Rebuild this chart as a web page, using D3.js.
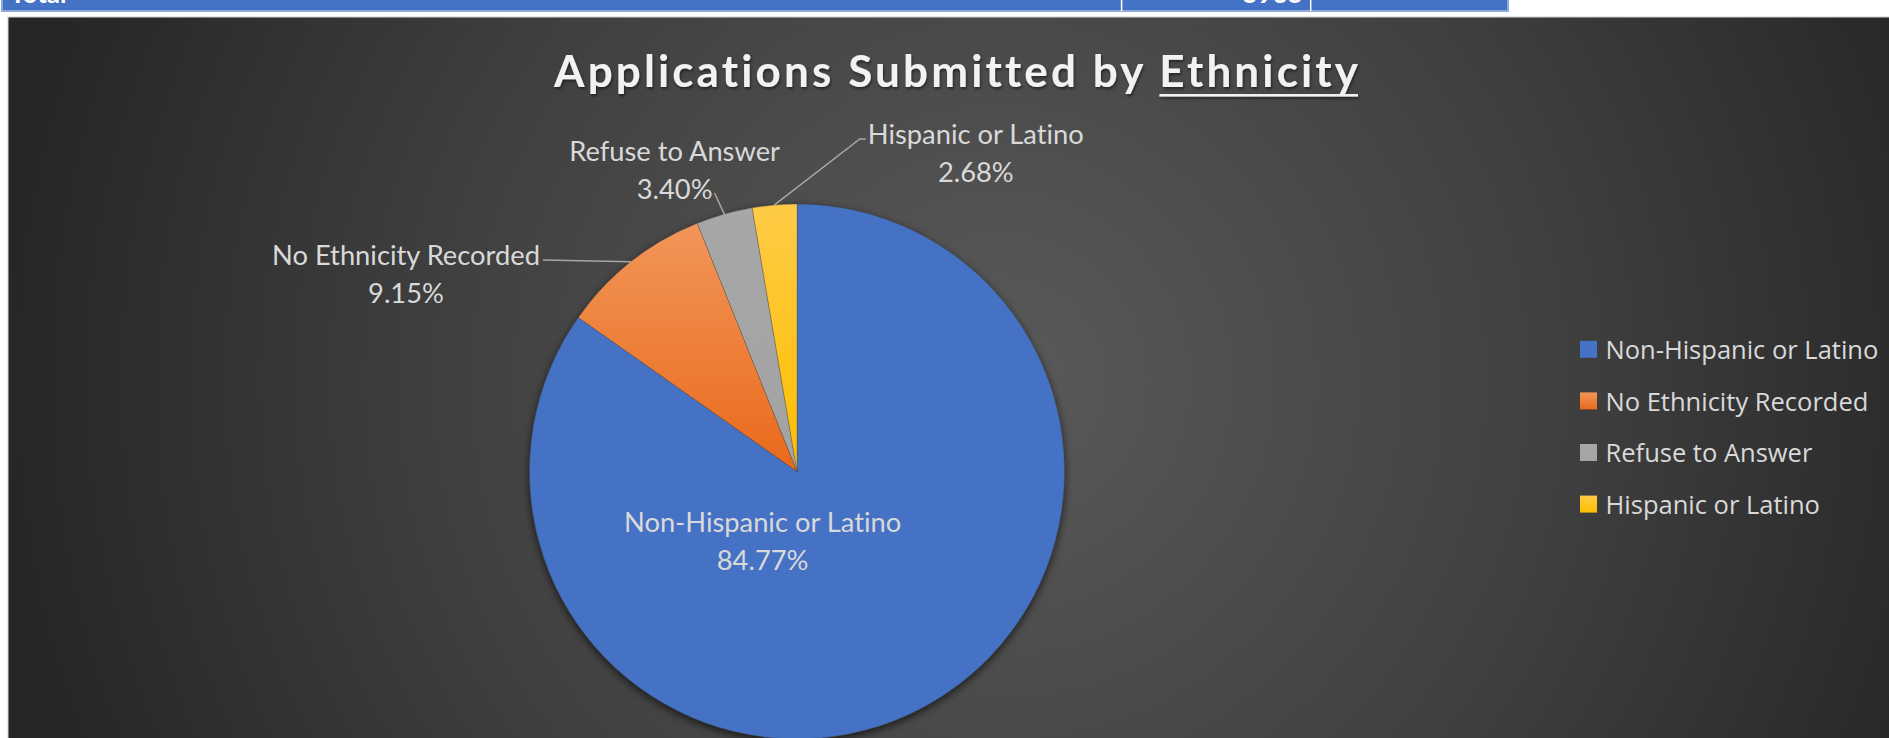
<!DOCTYPE html>
<html><head><meta charset="utf-8">
<script src="https://cdn.jsdelivr.net/npm/d3@7/dist/d3.min.js"></script>
<style>body{margin:0;background:#fff;overflow:hidden} text{font-variant-ligatures:none;font-feature-settings:"liga" 0,"clig" 0}</style>
</head><body><svg id="c" width="1889" height="738"></svg>
<script>
// ---------------- data ----------------
const categories = ["Non-Hispanic or Latino", "No Ethnicity Recorded", "Refuse to Answer", "Hispanic or Latino"];
const values = [84.77, 9.15, 3.40, 2.68];
const titleMain = "Applications Submitted by ";
const titleUnderlined = "Ethnicity";
const tableRowLabel = "Total";
const tableRowValue = "5935";

// ---------------- layout / style ----------------
const W = 1889, H = 738;
const chartBox = {x: 8, y: 17, w: W - 8, h: H - 17};
const pieC = {x: 797, y: 471.5}, R = 267.5;
const gradTop = ["#4472c4", "#f29659", "#a7a7a7", "#ffcb47"];
const gradBottom = ["#4472c4", "#e9691b", "#a3a3a3", "#fdbf00"];
const labelFont = "Lato, 'Open Sans', sans-serif";
const labelSize = 27.3, lineGap = 38;
// label centre offsets from pie centre + leader settings
const labelLayout = [
  {dx: -34.4, dy: 69.5, leader: null},
  {dx: -391, dy: -197.5, leader: {line: 0, edge: "right", off: 3, ly: 5, elbow: 0}},
  {dx: -122.4, dy: -301.5, leader: {line: 1, edge: "right", off: 2, ly: 4, elbow: 0}},
  {dx: 178.8, dy: -318.5, leader: {line: 0, edge: "left", off: 2, ly: 5, elbow: 6}}
];
const legendLayout = {x: 1580, y0: 349.3, step: 51.6, sq: 17, tx: 1605.5, size: 25.5};

const svg = d3.select("#c");
const defs = svg.append("defs");

// background gradient
const bg = defs.append("radialGradient").attr("id", "bg")
  .attr("gradientUnits", "userSpaceOnUse").attr("cx", 1000).attr("cy", 380).attr("r", 1000);
bg.append("stop").attr("offset", 0).attr("stop-color", "#5a5a5a");
bg.append("stop").attr("offset", 0.55).attr("stop-color", "#404040");
bg.append("stop").attr("offset", 1).attr("stop-color", "#262626");

categories.forEach((c, i) => {
  const g = defs.append("linearGradient").attr("id", "g" + i).attr("x1", 0).attr("y1", 0).attr("x2", 0).attr("y2", 1);
  g.append("stop").attr("offset", 0).attr("stop-color", gradTop[i]);
  g.append("stop").attr("offset", 1).attr("stop-color", gradBottom[i]);
});

const sh = defs.append("filter").attr("id", "sh").attr("x", "-10%").attr("y", "-10%").attr("width", "120%").attr("height", "120%");
sh.append("feDropShadow").attr("dx", 0).attr("dy", 3).attr("stdDeviation", 4).attr("flood-color", "#000").attr("flood-opacity", 0.65);
const tsh = defs.append("filter").attr("id", "tsh").attr("filterUnits", "userSpaceOnUse")
  .attr("x", 0).attr("y", 20).attr("width", W).attr("height", 100);
tsh.append("feDropShadow").attr("dx", 1).attr("dy", 2).attr("stdDeviation", 1.5).attr("flood-color", "#000").attr("flood-opacity", 0.5);

// ---------- table strip at the top ----------
const tbl = svg.append("g");
tbl.append("rect").attr("x", 2).attr("y", -4).attr("width", 1506).attr("height", 15)
  .attr("fill", "#4472c4").attr("stroke", "#8eaadb").attr("stroke-width", 2);
[1121.6, 1310.7].forEach(x => tbl.append("line").attr("x1", x).attr("x2", x).attr("y1", 0).attr("y2", 11)
  .attr("stroke", "#fff").attr("stroke-width", 1.5));
tbl.append("text").attr("x", 10).attr("y", 3).attr("fill", "#fff").attr("font-weight", 700)
  .attr("font-family", labelFont).attr("font-size", 26).text(tableRowLabel);
tbl.append("text").attr("x", 1303).attr("y", 3).attr("text-anchor", "end").attr("fill", "#fff").attr("font-weight", 700)
  .attr("font-family", labelFont).attr("font-size", 26).text(tableRowValue);

// ---------- chart area ----------
svg.append("rect").attr("x", chartBox.x).attr("y", chartBox.y).attr("width", chartBox.w + 2).attr("height", chartBox.h + 2)
  .attr("fill", "url(#bg)").attr("stroke", "#d0d0d0").attr("stroke-width", 1);

// title
const titleG = svg.append("g").attr("filter", "url(#tsh)");
const title = titleG.append("text").attr("x", 956).attr("y", 87).attr("text-anchor", "middle")
  .attr("font-family", labelFont).attr("font-weight", 700).attr("font-size", 44)
  .attr("fill", "#f2f2f2")
  .attr("textLength", 804).attr("lengthAdjust", "spacing");
title.append("tspan").text(titleMain);
title.append("tspan").text(titleUnderlined);
{
  const node = title.node();
  const n = (titleMain + titleUnderlined).length;
  const s = node.getStartPositionOfChar(titleMain.length).x;
  const e = node.getEndPositionOfChar(n - 1).x;
  titleG.append("rect").attr("x", s).attr("width", e - s).attr("y", 94).attr("height", 2.6)
    .attr("fill", "#f2f2f2");
}

// pie
const pie = d3.pie().sort(null).value(d => d);
const arcs = pie(values);
const arc = d3.arc().innerRadius(0).outerRadius(R);
const edgeArc = d3.arc().innerRadius(R).outerRadius(R);
const pg = svg.append("g").attr("transform", `translate(${pieC.x},${pieC.y})`);
pg.append("g").attr("filter", "url(#sh)").selectAll("path").data(arcs).join("path")
  .attr("d", arc).attr("fill", (d, i) => `url(#g${i})`)
  .attr("stroke", "rgba(60,60,60,0.35)").attr("stroke-width", 0.8);

// labels
const fmt = d3.format(".2f");
const lg = pg.append("g");
arcs.forEach((d, i) => {
  const L = labelLayout[i];
  const lines = [categories[i], fmt(values[i]) + "%"];
  const centers = [L.dy - lineGap / 2, L.dy + lineGap / 2];
  const texts = lines.map((t, k) => lg.append("text").attr("x", L.dx).attr("y", centers[k] + 9.8)
    .attr("text-anchor", "middle").attr("font-family", labelFont).attr("font-size", labelSize)
    .attr("fill", "#d9d9d9").text(t));
  if (L.leader) {
    const ld = L.leader;
    const bb = texts[ld.line].node().getBBox();
    const yy = centers[ld.line] + ld.ly;
    const x0 = ld.edge === "right" ? bb.x + bb.width + ld.off : bb.x - ld.off;
    const pts = [[x0, yy]];
    if (ld.elbow) pts.push([ld.edge === "right" ? x0 + ld.elbow : x0 - ld.elbow, yy]);
    pts.push(edgeArc.centroid(d));
    lg.append("path").attr("d", d3.line()(pts)).attr("fill", "none")
      .attr("stroke", "#a6a6a6").attr("stroke-width", 1.5);
  }
});

// legend
const leg = svg.append("g");
categories.forEach((c, i) => {
  const cy = legendLayout.y0 + i * legendLayout.step;
  leg.append("rect").attr("x", legendLayout.x).attr("y", cy - legendLayout.sq / 2)
    .attr("width", legendLayout.sq).attr("height", legendLayout.sq).attr("fill", `url(#g${i})`);
  leg.append("text").attr("x", legendLayout.tx).attr("y", cy + 9.7)
    .attr("font-family", "'Open Sans', sans-serif").attr("font-size", legendLayout.size).attr("fill", "#d9d9d9").text(c);
});
</script></body></html>
